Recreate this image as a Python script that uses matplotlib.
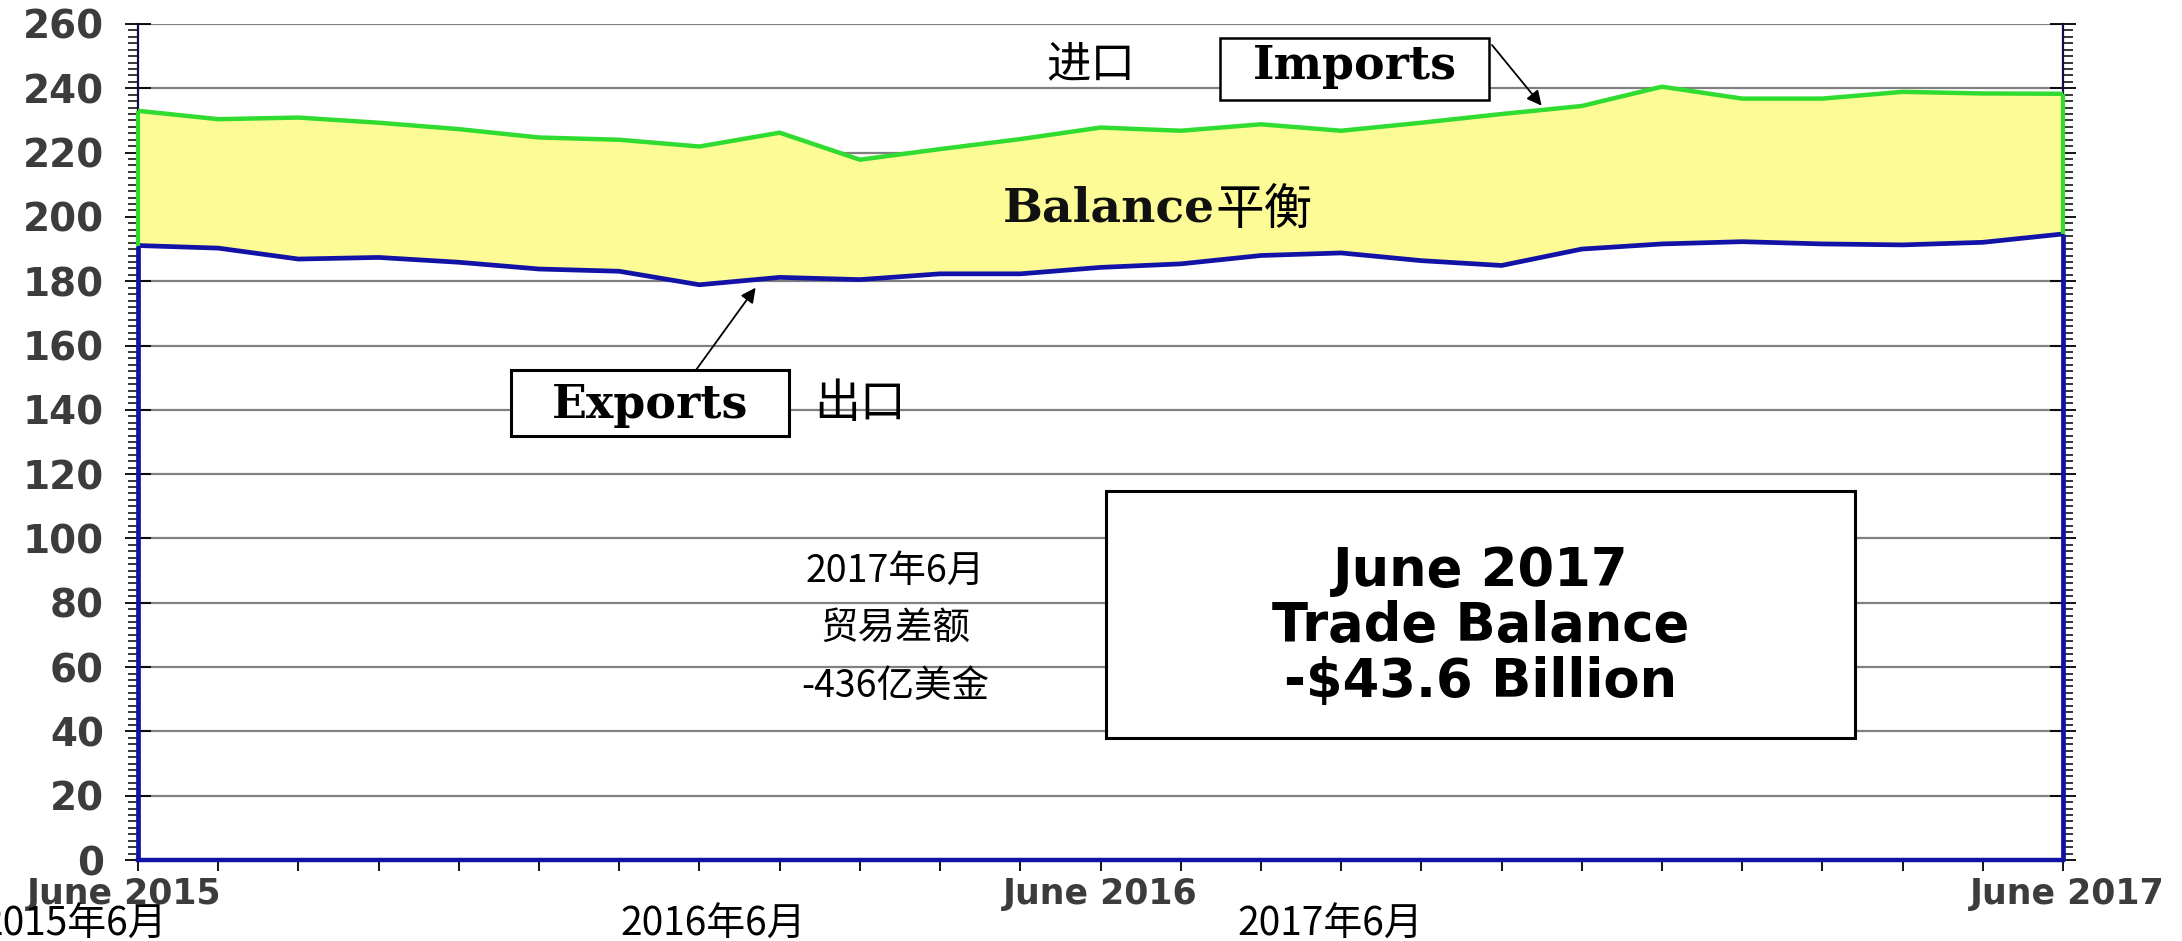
import matplotlib
matplotlib.use("Agg")
import matplotlib.pyplot as plt
from matplotlib.patches import Rectangle
from matplotlib.ticker import MultipleLocator, FixedLocator
import numpy as np

# ---------------- data ----------------
months = list(range(25))  # June 2015 ... June 2017
imports = [233.0, 230.4, 230.9, 229.3, 227.3, 224.7, 224.0, 221.9, 226.2, 217.8,
           221.1, 224.2, 227.8, 226.8, 228.8, 226.8, 229.3, 232.0, 234.5, 240.5,
           236.8, 236.8, 238.9, 238.4, 238.3]
exports = [191.1, 190.3, 186.9, 187.4, 185.9, 183.8, 183.1, 178.9, 181.2, 180.5,
           182.3, 182.3, 184.3, 185.4, 188.0, 188.8, 186.4, 184.9, 190.0, 191.6,
           192.3, 191.6, 191.3, 192.1, 194.7]
xtick_pos = [0, 12, 24]
xtick_labels = ["June 2015", "June 2016", "June 2017"]
cn_xlabels = ["2015年6月", "2016年6月", "2017年6月"]
ytick_vals = list(range(0, 261, 20))

W, H = 2182, 941
CJK = ['Noto Sans CJK SC', 'DejaVu Sans']

def fx(x):
    return x / W

def fy(y):
    return 1 - y / H

fig = plt.figure(figsize=(W / 100, H / 100), dpi=100)
fig.patch.set_facecolor('white')
ax = fig.add_axes([fx(138), fy(860), (2063 - 138) / W, (860 - 24) / H])

GREEN = '#2fdc2f'
NAVY = '#1212a6'
YELLOW = '#fdfb96'

ax.set_xlim(0, 24)
ax.set_ylim(0, 260)

# grid
ax.yaxis.set_major_locator(FixedLocator(ytick_vals))
ax.yaxis.set_minor_locator(MultipleLocator(2))
ax.grid(axis='y', which='major', color='#808080', lw=1.6, zorder=0)
ax.set_axisbelow(True)

# balance fill
ax.fill_between(months, exports, imports, color=YELLOW, lw=0, zorder=1)
ax.plot(months, imports, color=GREEN, lw=3.2, zorder=3, solid_joinstyle='round')
ax.plot(months, exports, color=NAVY, lw=3.4, zorder=3, solid_joinstyle='round')
# vertical edges of the areas
for i in (0, 24):
    ax.vlines(months[i], 0, exports[i], color=NAVY, lw=3.4, zorder=3, clip_on=False)
    ax.vlines(months[i], exports[i], imports[i], color=GREEN, lw=3.0, zorder=3, clip_on=False)

# spines
ax.spines['top'].set_visible(False)
for s in ('left', 'right'):
    ax.spines[s].set_color('#101040')
    ax.spines[s].set_linewidth(1.6)
ax.spines['bottom'].set_color(NAVY)
ax.spines['bottom'].set_linewidth(3.2)

# y ticks
ax.tick_params(axis='y', which='major', left=True, right=True, direction='inout',
               length=19, width=1.3, color='black', pad=15,
               labelsize=28, labelcolor='#3c3c3c')
ax.tick_params(axis='y', which='minor', left=True, right=True, direction='out',
               length=7, width=1.1, color='black')
ax.set_yticklabels([str(v) for v in ytick_vals], fontweight='bold', family='DejaVu Sans')

# x ticks (labels drawn as texts below)
ax.xaxis.set_major_locator(FixedLocator(months))
ax.set_xticklabels([''] * len(months))
ax.tick_params(axis='x', which='major', direction='out', length=8, width=1.3,
               color='black', pad=1)
xlab_shift = [-0.17, 0.0, 0.05]
for p, lab, s in zip(xtick_pos, xtick_labels, xlab_shift):
    ax.text(p + s, -0.02, lab, transform=ax.get_xaxis_transform(), ha='center', va='top',
            fontsize=25, fontweight='bold', family='DejaVu Sans', color='#3c3c3c')

# Chinese x labels under the axis
fig.text(fx(167), fy(925), cn_xlabels[0], ha='right', va='center', fontsize=28, family=CJK)
fig.text(fx(713), fy(925), cn_xlabels[1], ha='center', va='center', fontsize=28, family=CJK)
fig.text(fx(1330), fy(925), cn_xlabels[2], ha='center', va='center', fontsize=28, family=CJK)

# boxes (figure level, drawn above axes)
def box(x0, y0, x1, y1, lw):
    r = Rectangle((fx(x0), fy(y1)), fx(x1) - fx(x0), fy(y0) - fy(y1),
                  transform=fig.transFigure, facecolor='white', edgecolor='black',
                  lw=lw, zorder=2)
    fig.patches.append(r)

box(1220, 38, 1489, 100, 1.8)
box(511, 370, 789, 436, 2.2)
box(1106, 491, 1855, 738, 2.2)

# annotations
fig.text(fx(1355), fy(66), 'Imports', ha='center', va='center', fontsize=33,
         fontweight='bold', family='DejaVu Serif', zorder=4)
fig.text(fx(650), fy(405), 'Exports', ha='center', va='center', fontsize=33,
         fontweight='bold', family='DejaVu Serif', zorder=4)
fig.text(fx(1091), fy(64), '进口', ha='center', va='center', fontsize=32, family=CJK)
fig.text(fx(860), fy(404), '出口', ha='center', va='center', fontsize=33, family=CJK)
fig.text(fx(1215), fy(208), 'Balance', ha='right', va='center', fontsize=34,
         fontweight='bold', family='DejaVu Serif', color='#111111')
fig.text(fx(1215), fy(210), '平衡', ha='left', va='center', fontsize=35, family=CJK)

for yy, t in zip([571, 629, 686], ['2017年6月', '贸易差额', '-436亿美金']):
    fig.text(fx(895), fy(yy), t, ha='center', va='center', fontsize=27, family=CJK)

for yy, t in zip([571, 626, 682], ['June 2017', 'Trade Balance', '-$43.6 Billion']):
    fig.text(fx(1481), fy(yy), t, ha='center', va='center', fontsize=38,
             fontweight='bold', family='DejaVu Sans', color='black', zorder=4)

# arrows
ax.annotate('', xy=(17.5, 234.6), xycoords='data',
            xytext=(1492, H - 45), textcoords='figure pixels',
            arrowprops=dict(arrowstyle='-|>', color='black', lw=1.3, mutation_scale=22,
                            shrinkA=0, shrinkB=0), zorder=5)
ax.annotate('', xy=(7.7, 178.0), xycoords='data',
            xytext=(696, H - 370), textcoords='figure pixels',
            arrowprops=dict(arrowstyle='-|>', color='black', lw=1.3, mutation_scale=22,
                            shrinkA=0, shrinkB=0), zorder=5)

fig.savefig('out.png', dpi=100, facecolor='white')
